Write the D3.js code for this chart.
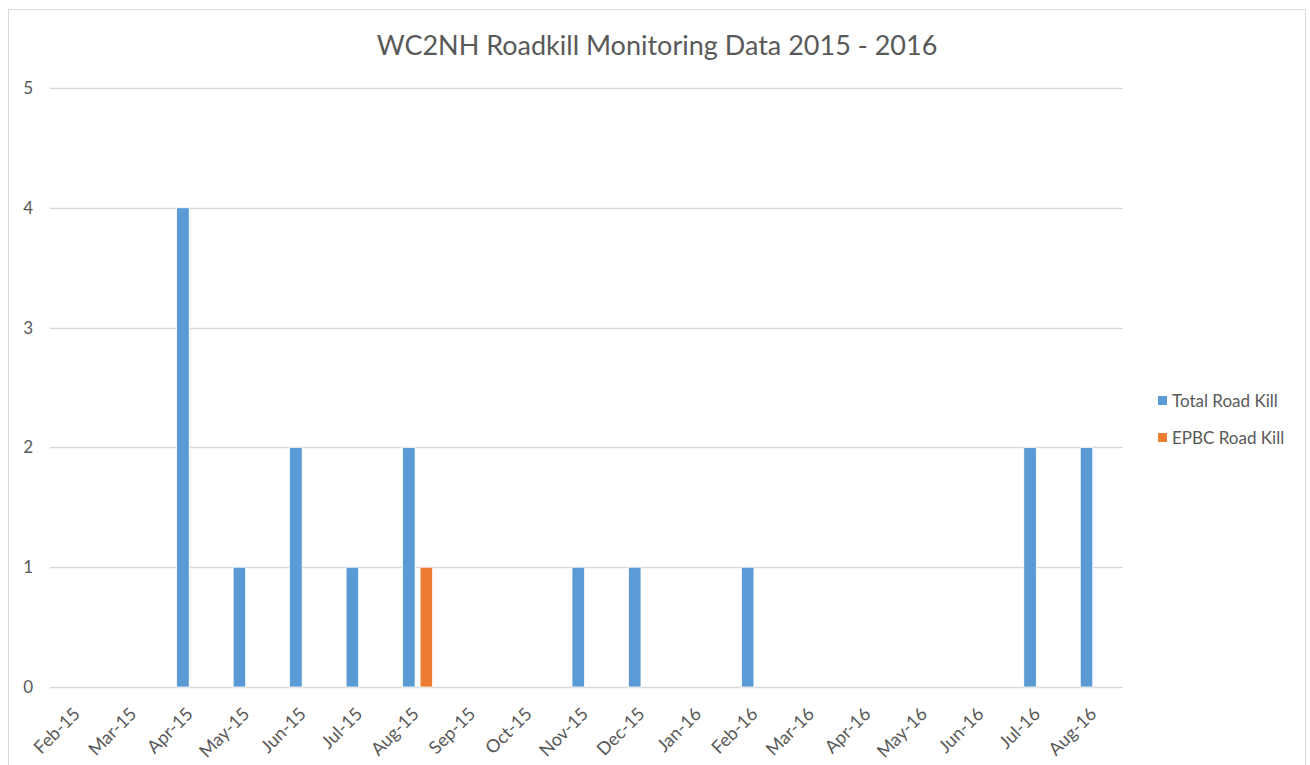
<!DOCTYPE html>
<html>
<head>
<meta charset="utf-8">
<script src="https://cdn.jsdelivr.net/npm/d3@7"></script>
<style>
  html, body { margin: 0; padding: 0; background: #fff; }
  svg { display: block; }
  text { font-family: "Lato", "Open Sans", sans-serif; fill: #595959; }
</style>
</head>
<body>
<svg id="chart" width="1310" height="765"></svg>
<script>
// Monthly roadkill counts, Feb 2015 – Aug 2016
const months = ["Feb-15","Mar-15","Apr-15","May-15","Jun-15","Jul-15","Aug-15","Sep-15","Oct-15",
                "Nov-15","Dec-15","Jan-16","Feb-16","Mar-16","Apr-16","May-16","Jun-16","Jul-16","Aug-16"];
const totalRoadKill = [0,0,4,1,2,1,2,0,0,1,1,0,1,0,0,0,0,2,2];
const epbcRoadKill  = [0,0,0,0,0,0,1,0,0,0,0,0,0,0,0,0,0,0,0];
const seriesNames = ["Total Road Kill", "EPBC Road Kill"];
const seriesColors = ["#5b9bd5", "#ed7d31"];
const yTicks = [0,1,2,3,4,5];
const chartTitle = "WC2NH Roadkill Monitoring Data 2015 - 2016";

const svg = d3.select("#chart");
const plot = { left: 50, right: 1123, top: 88, bottom: 687 };

// chart frame
svg.append("rect")
  .attr("x", 8.5).attr("y", 9.5).attr("width", 1297).attr("height", 770)
  .attr("fill", "#fff").attr("stroke", "#d9d9d9").attr("stroke-width", 1);

const x0 = d3.scaleBand().domain(months).range([plot.left, plot.right]).padding(0);
const bw = x0.bandwidth();
const x1 = d3.scaleBand().domain(seriesNames)
  .range([bw / 2 - 14.5, bw / 2 + 15.5]).paddingInner(0.2857).paddingOuter(0);
const y = d3.scaleLinear().domain([0, 5]).range([plot.bottom, plot.top]);

// gridlines
svg.append("g")
  .selectAll("line").data(yTicks).join("line")
  .attr("x1", plot.left).attr("x2", plot.right)
  .attr("y1", d => Math.round(y(d)) + 0.5).attr("y2", d => Math.round(y(d)) + 0.5)
  .attr("stroke", "#d9d9d9").attr("stroke-width", 1.5);

// y axis labels
const yAxis = d3.axisLeft(y).tickValues(yTicks).tickSize(0).tickPadding(0).tickFormat(d3.format("d"));
svg.append("g")
  .attr("transform", `translate(33,0)`)
  .call(yAxis)
  .call(g => g.select(".domain").remove())
  .call(g => g.selectAll("text").attr("font-size", 17).attr("fill", "#595959")
    .attr("font-family", "Lato, 'Open Sans', sans-serif"));

// bars
const rows = months.map((m, i) => ({ month: m, values: [totalRoadKill[i], epbcRoadKill[i]] }));
const groups = svg.append("g").selectAll("g").data(rows).join("g")
  .attr("transform", d => `translate(${x0(d.month)},0)`);
groups.selectAll("rect")
  .data(d => d.values.map((v, j) => ({ key: seriesNames[j], value: v, color: seriesColors[j] })).filter(d => d.value > 0))
  .join("rect")
  .attr("x", d => x1(d.key))
  .attr("width", x1.bandwidth())
  .attr("y", d => y(d.value))
  .attr("height", d => y(0) - y(d.value))
  .attr("fill", d => d.color)
  .attr("stroke", "#fff").attr("stroke-width", 0.75);

// x axis labels, rotated
const xAxis = d3.axisBottom(x0).tickSize(0).tickPadding(0);
svg.append("g")
  .attr("transform", `translate(0,${plot.bottom})`)
  .call(xAxis)
  .call(g => g.select(".domain").remove())
  .call(g => g.selectAll("text")
    .attr("font-size", 18).attr("fill", "#595959")
    .attr("font-family", "Lato, 'Open Sans', sans-serif")
    .attr("text-anchor", "end")
    .attr("dy", null)
    .attr("transform", "translate(3,28) rotate(-45)"));

// title
svg.append("text")
  .attr("x", 657).attr("y", 55)
  .attr("text-anchor", "middle")
  .attr("font-size", 27)
  .attr("fill", "#595959")
  .text(chartTitle);

// legend
const legend = svg.append("g").selectAll("g").data(seriesNames).join("g")
  .attr("transform", (d, i) => `translate(1158,${396 + i * 37})`);
legend.append("rect").attr("width", 9).attr("height", 9).attr("fill", (d, i) => seriesColors[i]);
legend.append("text").attr("x", 14).attr("y", 10.5).attr("font-size", 17).text(d => d);
</script>
</body>
</html>
